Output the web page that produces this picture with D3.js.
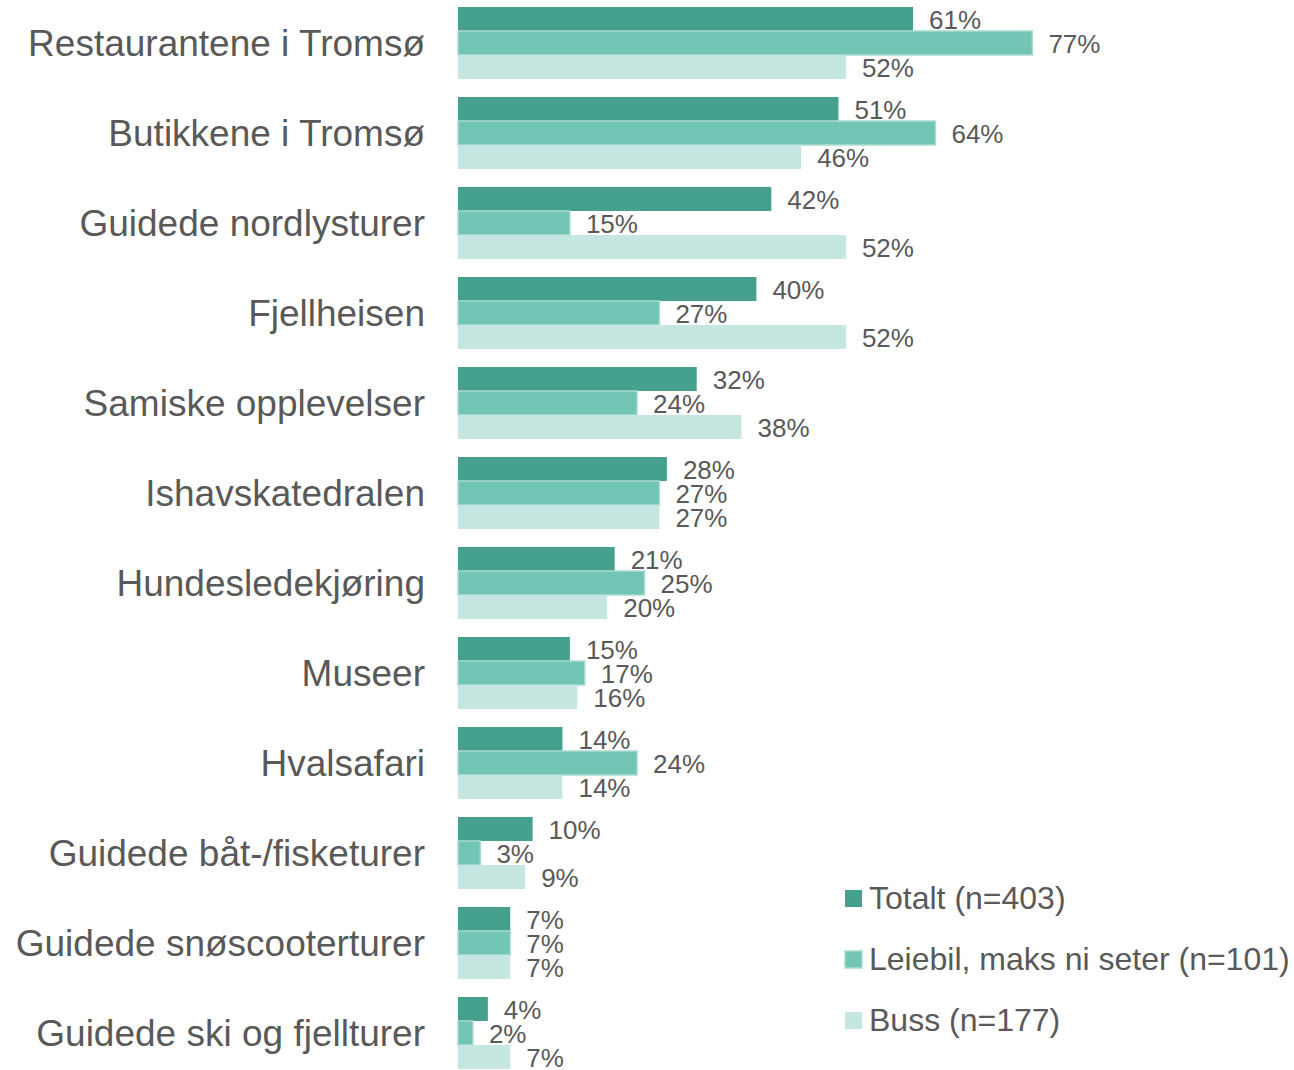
<!DOCTYPE html>
<html>
<head>
<meta charset="utf-8">
<script src="https://cdn.jsdelivr.net/npm/d3@7"></script>
<style>
  body { margin: 0; background: #fff; }
  text { font-family: Arial, "Liberation Sans", sans-serif; fill: #595959; }
</style>
</head>
<body>
<svg width="1294" height="1070"></svg>
<script>
const categories = [
  'Restaurantene i Tromsø', 'Butikkene i Tromsø', 'Guidede nordlysturer', 'Fjellheisen',
  'Samiske opplevelser', 'Ishavskatedralen', 'Hundesledekjøring', 'Museer',
  'Hvalsafari', 'Guidede båt-/fisketurer', 'Guidede snøscooterturer', 'Guidede ski og fjellturer'
];
const totalt = [61, 51, 42, 40, 32, 28, 21, 15, 14, 10, 7, 4];
const leiebil = [77, 64, 15, 27, 24, 27, 25, 17, 24, 3, 7, 2];
const buss = [52, 46, 52, 52, 38, 27, 20, 16, 14, 9, 7, 7];
const seriesNames = ['Totalt (n=403)', 'Leiebil, maks ni seter (n=101)', 'Buss (n=177)'];

const colors = ['#45a08e', '#72c4b4', '#c6e7e1'];
const strokes = ['none', '#a9dcd1', 'none'];

const svg = d3.select('svg');
const width = +svg.attr('width');
const height = +svg.attr('height');

const x = d3.scaleLinear().domain([0, 100]).range([458, 1204]);
const y = d3.scaleBand().domain(categories).range([-2, 1078])
    .paddingInner(0.2).paddingOuter(0.1);
const sub = d3.scaleBand().domain([0, 1, 2]).range([0, y.bandwidth()]);

const series = [totalt, leiebil, buss];

const groups = svg.selectAll('g.cat')
  .data(categories)
  .enter().append('g')
    .attr('class', 'cat')
    .attr('transform', d => `translate(0, ${y(d)})`);

groups.append('text')
    .attr('x', 425)
    .attr('y', y.bandwidth() / 2)
    .attr('dy', '0.36em')
    .attr('text-anchor', 'end')
    .style('font-size', '37px')
    .text(d => d);

series.forEach((vals, s) => {
  groups.append('rect')
      .attr('x', x(0))
      .attr('y', sub(s))
      .attr('width', (d, i) => x(vals[i]) - x(0))
      .attr('height', sub.bandwidth())
      .attr('fill', colors[s])
      .attr('stroke', strokes[s])
      .attr('stroke-width', 1.5);

  groups.append('text')
      .attr('x', (d, i) => x(vals[i]) + 16)
      .attr('y', sub(s) + sub.bandwidth() / 2)
      .attr('dy', '0.4em')
      .style('font-size', '26px')
      .text((d, i) => vals[i] + '%');
});

// legend
const legend = svg.append('g')
    .attr('transform', 'translate(845, 898)');

const items = legend.selectAll('g')
  .data(seriesNames)
  .enter().append('g')
    .attr('transform', (d, i) => `translate(0, ${i * 61})`);

items.append('rect')
    .attr('x', 0)
    .attr('y', -8)
    .attr('width', 17)
    .attr('height', 17)
    .attr('fill', (d, i) => colors[i])
    .attr('stroke', (d, i) => strokes[i])
    .attr('stroke-width', 1.5);

items.append('text')
    .attr('x', 24)
    .attr('y', 0)
    .attr('dy', '0.35em')
    .style('font-size', '32px')
    .text(d => d);
</script>
</body>
</html>
